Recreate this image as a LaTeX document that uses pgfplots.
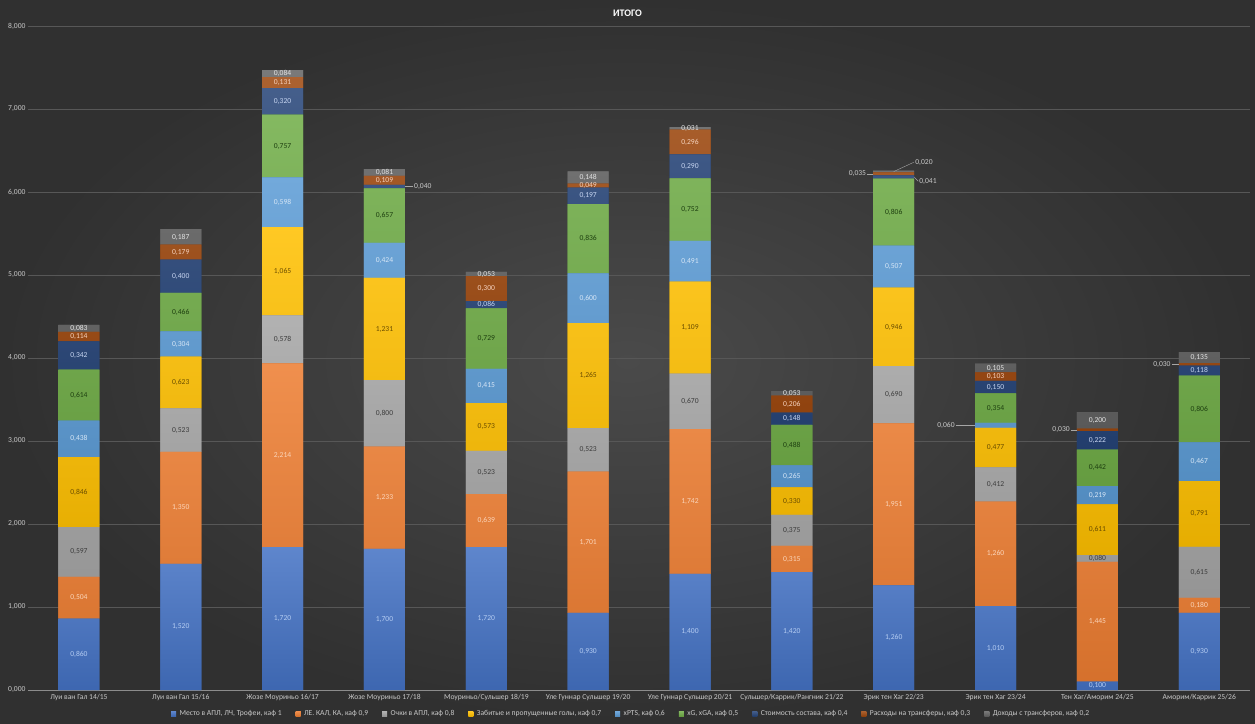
\documentclass[border=0pt]{standalone}
\usepackage{fontspec}
\setmainfont{Carlito}
\usepackage{pgfplots}
\usepackage{pgfplotstable}
\pgfplotsset{compat=1.18}
\pgfplotsset{/pgf/number format/assume math mode=true}

\definecolor{cA}{HTML}{4472C4}
\definecolor{cB}{HTML}{ED7D31}
\definecolor{cC}{HTML}{A5A5A5}
\definecolor{cD}{HTML}{FFC000}
\definecolor{cE}{HTML}{5B9BD5}
\definecolor{cF}{HTML}{70AD47}
\definecolor{cG}{HTML}{264478}
\definecolor{cH}{HTML}{9E480E}
\definecolor{cI}{HTML}{636363}
\definecolor{tA}{HTML}{B4CCF2}
\definecolor{tB}{HTML}{FBD5BA}
\definecolor{tC}{HTML}{3C3C3C}
\definecolor{tD}{HTML}{6B4E00}
\definecolor{tE}{HTML}{D6E6F6}
\definecolor{tF}{HTML}{1E4010}
\definecolor{tG}{HTML}{C8D6F2}
\definecolor{tH}{HTML}{F6D2BE}
\definecolor{tI}{HTML}{E4E4E4}
\definecolor{bgIn}{HTML}{4A4A4A}
\definecolor{bgOut}{HTML}{303030}
\definecolor{gridc}{HTML}{575757}
\definecolor{labc}{HTML}{C8C8C8}

\newcommand\sz{\fontsize{7.6}{8}\selectfont}

\pgfplotstableread{
x  a     b     c     d     e     f     g     h     i
0  0.860 0.504 0.597 0.846 0.438 0.614 0.342 0.114 0.083
1  1.520 1.350 0.523 0.623 0.304 0.466 0.400 0.179 0.187
2  1.720 2.214 0.578 1.065 0.598 0.757 0.320 0.131 0.084
3  1.700 1.233 0.800 1.231 0.424 0.657 0.040 0.109 0.081
4  1.720 0.639 0.523 0.573 0.415 0.729 0.086 0.300 0.053
5  0.930 1.701 0.523 1.265 0.600 0.836 0.197 0.049 0.148
6  1.400 1.742 0.670 1.109 0.491 0.752 0.290 0.296 0.031
7  1.420 0.315 0.375 0.330 0.265 0.488 0.148 0.206 0.053
8  1.260 1.951 0.690 0.946 0.507 0.806 0.041 0.035 0.020
9  1.010 1.260 0.412 0.477 0.060 0.354 0.150 0.103 0.105
10 0.100 1.445 0.080 0.611 0.219 0.442 0.222 0.030 0.200
11 0.930 0.180 0.615 0.791 0.467 0.806 0.118 0.030 0.135
}\data

\pgfplotsset{
  common/.style={at={(28pt,33pt)}, anchor=south west,
    x=101.85pt, y=83pt, xmin=-0.5, xmax=11.5, ymin=0, ymax=8},
  bar/.style={draw=none, fill=#1, top color=#1!86!white, bottom color=#1!90!black},
  lab/.style n args={3}{% column, text colour, threshold
    draw=none, mark=none, forget plot,
    point meta=\thisrow{#1},
    x filter/.expression={\thisrow{#1}<#3 ? nan : x},
    nodes near coords={\pgfmathprintnumber[fixed,fixed zerofill,precision=3,use comma]{\pgfplotspointmeta}},
    every node near coord/.append style={text=#2, anchor=center,
      font=\sz, inner sep=0pt},
  },
}

\begin{document}
\begin{tikzpicture}
\shade[inner color=bgIn, outer color=bgOut] (0,0) rectangle (1255pt,723pt);
\useasboundingbox (0,0) rectangle (1255pt,723pt);
\begin{axis}[
  common,
  ybar stacked, bar width=41pt,
  axis line style={draw=none},
  major tick length=0pt,
  ymajorgrids, grid style={gridc, line width=0.6pt},
  ytick={0,1,...,8},
  yticklabel style={font=\sz, text=labc, xshift=1pt,
    /pgf/number format/.cd, fixed, fixed zerofill, precision=3, use comma},
  xtick={0,...,11},
  xticklabels={Луи ван Гал 14/15, Луи ван Гал 15/16, Жозе Моуриньо 16/17, Жозе Моуриньо 17/18,
    Моуриньо/Сульшер 18/19, Уле Гуннар Сульшер 19/20, Уле Гуннар Сульшер 20/21,
    Сульшер/Каррик/Рангник 21/22, Эрик тен Хаг 22/23, Эрик тен Хаг 23/24,
    Тен Хаг/Аморим 24/25, Аморим/Каррик 25/26},
  xticklabel style={font=\sz, text=labc, yshift=-0.5pt},
  legend columns=9,
  legend style={at={(0.5,0)}, anchor=center, yshift=-24pt, xshift=-8pt,
    draw=none, fill=none, font=\sz, text=labc,
    /tikz/every odd column/.append style={column sep=1.5pt},
    /tikz/every even column/.append style={column sep=12pt}},
  legend image code/.code={\fill[#1] (0pt,-2.2pt) rectangle (5pt,2.8pt);},
  clip=false,
]
\addplot[bar=cA] table[x=x,y=a]{\data};
\addplot[bar=cB] table[x=x,y=b]{\data};
\addplot[bar=cC] table[x=x,y=c]{\data};
\addplot[bar=cD] table[x=x,y=d]{\data};
\addplot[bar=cE] table[x=x,y=e]{\data};
\addplot[bar=cF] table[x=x,y=f]{\data};
\addplot[bar=cG] table[x=x,y=g]{\data};
\addplot[bar=cH] table[x=x,y=h]{\data};
\addplot[bar=cI] table[x=x,y=i]{\data};
\legend{Место в АПЛ{,} ЛЧ{,} Трофеи{,} каф 1, ЛЕ. КАЛ{,} КА{,} каф 0{,}9, Очки в АПЛ{,} каф 0{,}8,
  Забитые и пропущенные голы{,} каф 0{,}7, xPTS{,} каф 0{,}6, xG{,} xGA{,} каф 0{,}5,
  Стоимость состава{,} каф 0{,}4, Расходы на трансферы{,} каф 0{,}3, Доходы с трансферов{,} каф 0{,}2}
\draw[labc!70!black, line width=0.6pt] (axis cs:-0.5,0) -- (axis cs:11.5,0);
\end{axis}
\begin{axis}[common, hide axis, clip=false]
\addplot[lab={a}{tA}{0.01}] table[x=x, y expr={0.5*\thisrow{a}}]{\data};
\addplot[lab={b}{tB}{0.01}] table[x=x, y expr={\thisrow{a}+0.5*\thisrow{b}}]{\data};
\addplot[lab={c}{tC}{0.01}] table[x=x, y expr={\thisrow{a}+\thisrow{b}+0.5*\thisrow{c}}]{\data};
\addplot[lab={d}{tD}{0.01}] table[x=x, y expr={\thisrow{a}+\thisrow{b}+\thisrow{c}+0.5*\thisrow{d}}]{\data};
\addplot[lab={e}{tE}{0.1}] table[x=x, y expr={\thisrow{a}+\thisrow{b}+\thisrow{c}+\thisrow{d}+0.5*\thisrow{e}}]{\data};
\addplot[lab={f}{tF}{0.01}] table[x=x, y expr={\thisrow{a}+\thisrow{b}+\thisrow{c}+\thisrow{d}+\thisrow{e}+0.5*\thisrow{f}}]{\data};
\addplot[lab={g}{tG}{0.045}] table[x=x, y expr={\thisrow{a}+\thisrow{b}+\thisrow{c}+\thisrow{d}+\thisrow{e}+\thisrow{f}+0.5*\thisrow{g}}]{\data};
\addplot[lab={h}{tH}{0.045}] table[x=x, y expr={\thisrow{a}+\thisrow{b}+\thisrow{c}+\thisrow{d}+\thisrow{e}+\thisrow{f}+\thisrow{g}+0.5*\thisrow{h}}]{\data};
\addplot[lab={i}{tI}{0.025}] table[x=x, y expr={\thisrow{a}+\thisrow{b}+\thisrow{c}+\thisrow{d}+\thisrow{e}+\thisrow{f}+\thisrow{g}+\thisrow{h}+0.5*\thisrow{i}}]{\data};
\tikzset{co/.style={gray!70, line width=0.4pt}, ct/.style={font=\sz, text=labc, inner sep=1pt}}
\draw[co] (axis cs:3.2,6.065) -- (axis cs:3.28,6.065) node[right, ct] {0,040};
\draw[co] (axis cs:7.8,6.218) -- (axis cs:7.74,6.218) node[left, ct] {0,035};
\draw[co] (axis cs:8.2,6.18) -- (axis cs:8.24,6.13) node[right, ct] {0,041};
\draw[co] (axis cs:8.0,6.246) -- (axis cs:8.2,6.36) node[right, ct] {0,020};
\draw[co] (axis cs:8.8,3.189) -- (axis cs:8.61,3.189) node[left, ct] {0,060};
\draw[co] (axis cs:9.8,3.134) -- (axis cs:9.74,3.134) node[left, ct] {0,030};
\draw[co] (axis cs:10.8,3.922) -- (axis cs:10.73,3.922) node[left, ct] {0,030};
\end{axis}
\node[text=white, font=\bfseries\fontsize{10}{11}\selectfont] at (627.5pt,710pt) {ИТОГО};
\end{tikzpicture}
\end{document}
